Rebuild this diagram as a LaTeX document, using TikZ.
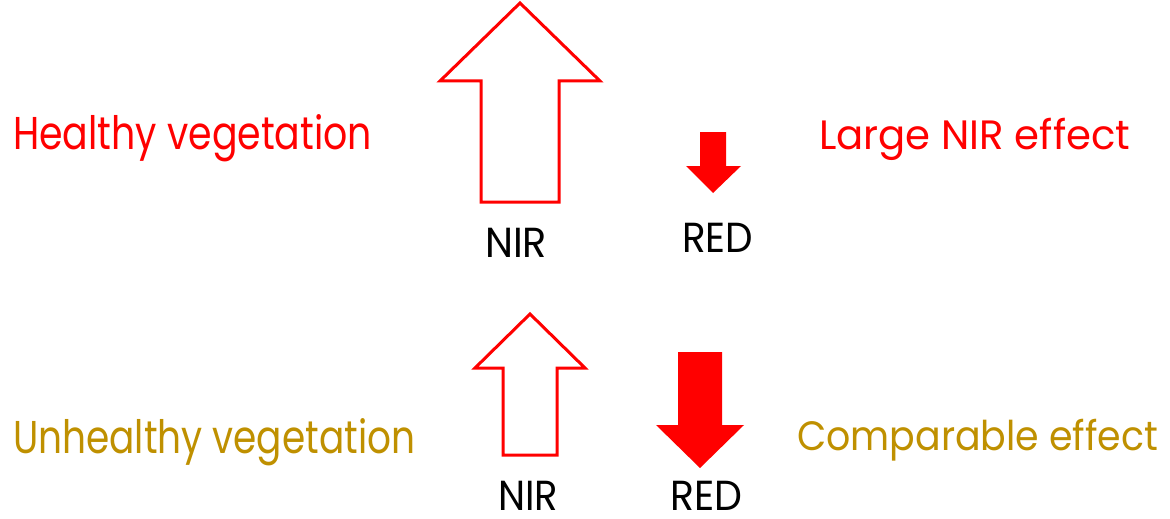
\documentclass[tikz,border=0pt]{standalone}
\usepackage{fontspec}
\setmainfont{Poppins}
\usepackage{graphicx}
\definecolor{vred}{RGB}{255,0,0}
\definecolor{vgold}{RGB}{191,144,0}
\tikzset{
  outlinearrow/.style={draw=vred, line width=3pt, fill=white, line join=miter},
  filledarrow/.style={fill=vred, draw=none},
  lefttitle/.style={inner sep=0pt, anchor=base west, font=\fontsize{46}{50}\selectfont},
  righttitle/.style={inner sep=0pt, anchor=base west, font=\fontsize{41}{45}\selectfont},
  bandlabel/.style={inner sep=0pt, anchor=base west, text=black, text depth=0pt, font=\fontsize{42}{46}\selectfont}
}
\newcommand{\fitw}[2]{\resizebox{#1}{\height}{#2}}
\begin{document}
\begin{tikzpicture}[x={(1pt,0)}, y={(0,-1pt)}]
\useasboundingbox (0,0) rectangle (1170,519);
% healthy: NIR big up arrow (outline)
\draw[outlinearrow] (520,3) -- (600,81) -- (559,81) -- (559,202) -- (481,202) -- (481,81) -- (440,81) -- cycle;
% healthy: RED small down arrow (filled)
\fill[filledarrow] (700,132) -- (726,132) -- (726,166) -- (741,166) -- (713,193) -- (686,166) -- (700,166) -- cycle;
% unhealthy: NIR up arrow (outline)
\draw[outlinearrow] (530,314) -- (585,368) -- (557,368) -- (557,455) -- (503,455) -- (503,368) -- (475,368) -- cycle;
% unhealthy: RED down arrow (filled)
\fill[filledarrow] (678,352) -- (722,352) -- (722,425) -- (744,425) -- (700,468) -- (656,425) -- (678,425) -- cycle;
% titles
\node[lefttitle, text=vred] (healthy) at (13,149) {\fitw{359pt}{Healthy vegetation}};
\node[righttitle, text=vred] (large) at (819,149) {\fitw{311pt}{Large NIR effect}};
\node[lefttitle, text=vgold] (unhealthy) at (13,453) {\fitw{402pt}{Unhealthy vegetation}};
\node[righttitle, text=vgold] (comparable) at (797,450) {\fitw{361pt}{Comparable effect}};
% band labels
\node[bandlabel] (nir1) at (485,257) {\fitw{62pt}{NIR}};
\node[bandlabel] (red1) at (682,252) {\fitw{71pt}{RED}};
\node[bandlabel] (nir2) at (498,510) {\fitw{60pt}{NIR}};
\node[bandlabel] (red2) at (670,510) {\fitw{72pt}{RED}};
\end{tikzpicture}
\end{document}
